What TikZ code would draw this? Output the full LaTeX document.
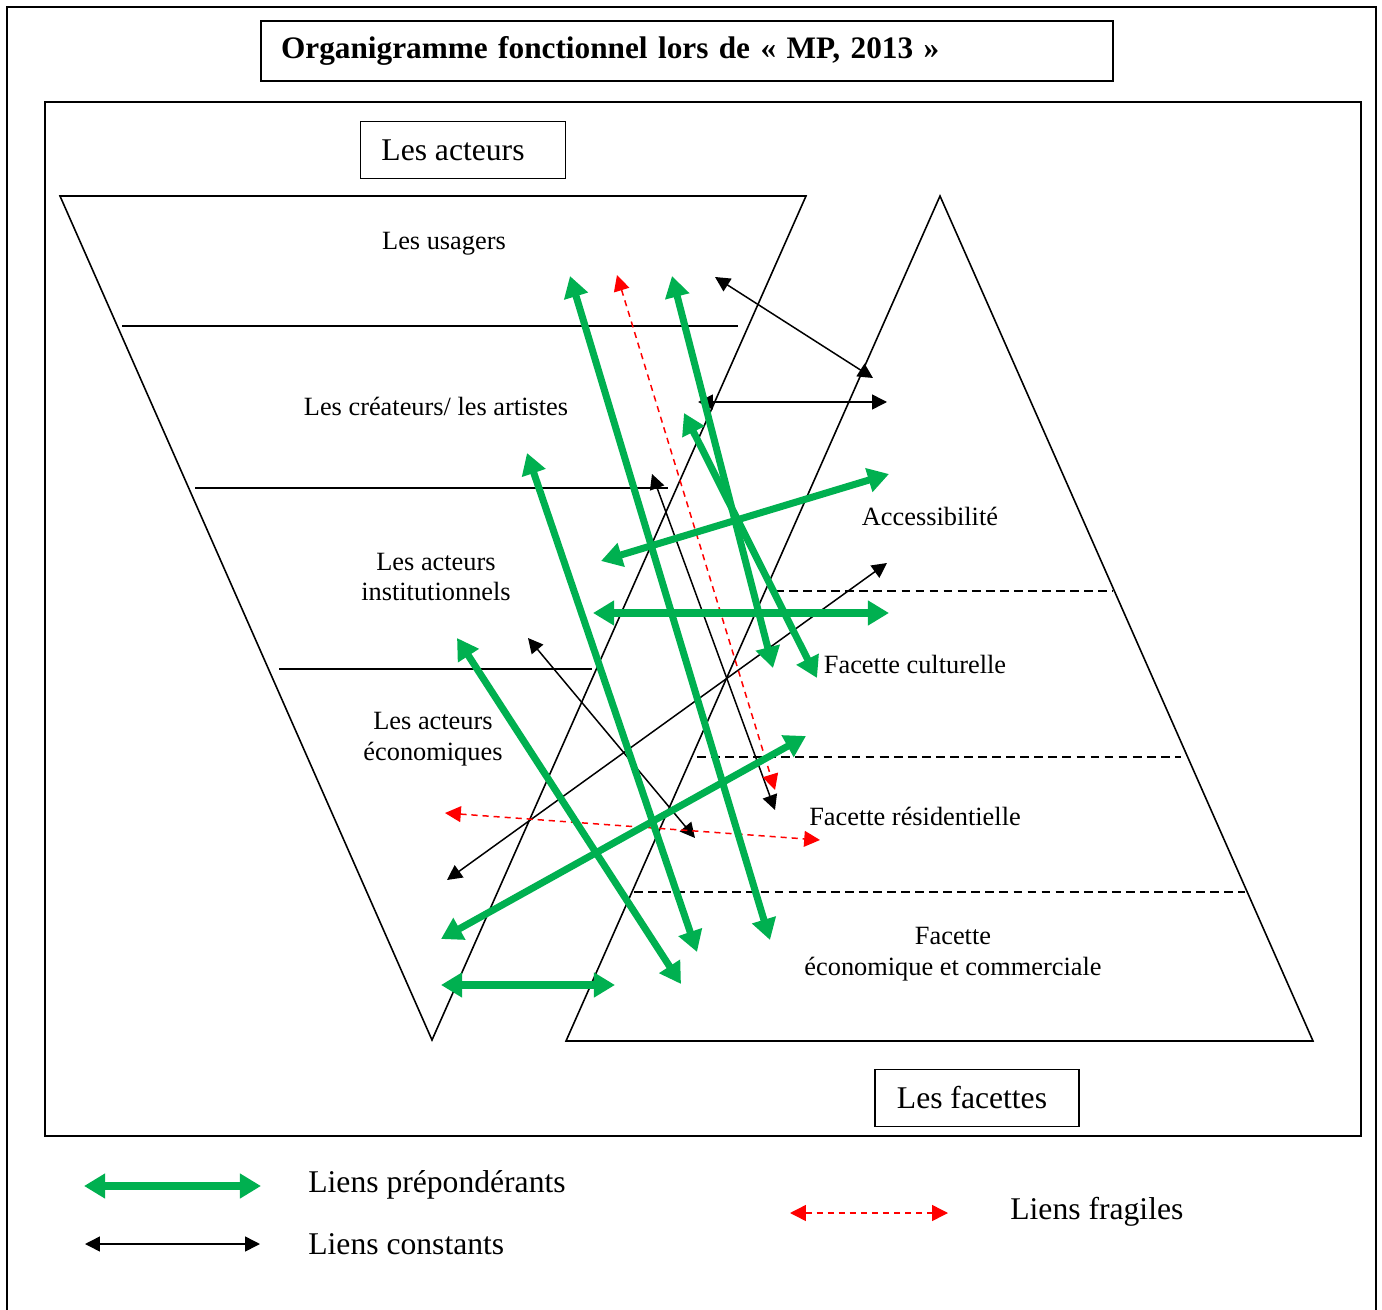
\documentclass[tikz,border=0pt]{standalone}
\usepackage{fontspec}
\setmainfont{Liberation Serif}
\usetikzlibrary{arrows.meta, positioning}
\definecolor{strongcolor}{RGB}{0,176,80}

\begin{document}
\begin{tikzpicture}[x=0.02cm, y=-0.02cm]
    % Define styles
    \tikzstyle{outline}=[draw, line width=0.9pt]
    \tikzstyle{tag}=[font=\fontsize{15}{17.5}\selectfont, align=center]
    \tikzstyle{legendtext}=[font=\fontsize{18}{21}\selectfont, anchor=west, inner sep=0pt]
    \tikzstyle{strong}=[draw=strongcolor, line width=4pt, {Triangle[length=12pt,width=13.5pt]}-{Triangle[length=12pt,width=13.5pt]}]
    \tikzstyle{steady}=[draw, line width=0.85pt, {Triangle[length=8.5pt,width=8.5pt]}-{Triangle[length=8.5pt,width=8.5pt]}]
    \tikzstyle{weak}=[draw=red, line width=0.85pt, dash pattern=on 3.5pt off 2.8pt, {Triangle[length=9pt,width=9pt]}-{Triangle[length=9pt,width=9pt]}]
    \tikzstyle{divider}=[draw, line width=0.8pt]
    \tikzstyle{facetline}=[draw, line width=0.8pt, dash pattern=on 5pt off 3pt]

    \useasboundingbox (0,0) rectangle (1382,1310);

    % Frames
    \draw[outline] (7,1310) -- (7,7) -- (1376,7) -- (1376,1310);
    \draw[outline] (45,102) rectangle (1361,1136);
    \node[outline, text width=16.24cm, inner xsep=0.4cm, minimum height=1.2cm, align=left, font=\fontsize{17.8}{20}\selectfont\bfseries] (title) at (687,51) {Organigramme fonctionnel lors de « MP, 2013 »};
    \node[outline, minimum width=4.1cm, minimum height=1.14cm, font=\fontsize{18}{21}\selectfont] (acteurs) at (463,150) {\hspace*{-0.4cm}Les acteurs};
    \node[outline, minimum width=4.08cm, minimum height=1.14cm, font=\fontsize{18}{21}\selectfont] (facettes) at (977,1098) {\hspace*{-0.2cm}Les facettes};

    % Actors (inverted) and facets triangles
    \draw[outline] (60,196) -- (806,196) -- (432,1040) -- cycle;
    \draw[outline] (940,196) -- (1313,1041) -- (566,1041) -- cycle;
    \draw[divider] (122,326) -- (738,326);
    \draw[divider] (195,488) -- (668,488);
    \draw[divider] (279,669) -- (592,669);
    \draw[facetline] (775,591) -- (1113,591);
    \draw[facetline] (697,757) -- (1181,757);
    \draw[facetline] (634,892) -- (1245,892);

    % Labels
    \node[tag] (usagers) at (444,244) {Les usagers};
    \node[tag] (createurs) at (436,406) {Les créateurs/ les artistes};
    \node[tag] (institution) at (436,577) {Les acteurs\\institutionnels};
    \node[tag] (economie) at (433,739) {Les acteurs\\économiques};
    \node[tag] (access) at (930,516) {Accessibilité};
    \node[tag] (culture) at (915,664) {Facette culturelle};
    \node[tag] (residence) at (915,816) {Facette résidentielle};
    \node[tag] (commerce) at (953,954) {Facette\\économique et commerciale};

    % Arrow ends
    \coordinate (b1a) at (715,277); \coordinate (b1b) at (873,378);
    \coordinate (b2a) at (698,402); \coordinate (b2b) at (887,402);
    \coordinate (b3a) at (652,474); \coordinate (b3b) at (775,810);
    \coordinate (b4a) at (887,563); \coordinate (b4b) at (447,880);
    \coordinate (b5a) at (528,638); \coordinate (b5b) at (695,838);
    \coordinate (r1a) at (617,275); \coordinate (r1b) at (775,790);
    \coordinate (r2a) at (445,813); \coordinate (r2b) at (820,840);
    \coordinate (g1a) at (570,276); \coordinate (g1b) at (770,940);
    \coordinate (g2a) at (527,453); \coordinate (g2b) at (697,952);
    \coordinate (g3a) at (672,276); \coordinate (g3b) at (773,668);
    \coordinate (g4a) at (684,413); \coordinate (g4b) at (817,678);
    \coordinate (g5a) at (889,474); \coordinate (g5b) at (601,561);
    \coordinate (g6a) at (593,613); \coordinate (g6b) at (889,613);
    \coordinate (g7a) at (457,638); \coordinate (g7b) at (681,984);
    \coordinate (g8a) at (806,736); \coordinate (g8b) at (441,939);
    \coordinate (g9a) at (441,985); \coordinate (g9b) at (615,985);

    % Constant links
    \draw[steady] (b1a) -- (b1b);
    \draw[steady] (b2a) -- (b2b);
    \draw[steady] (b3a) -- (b3b);
    \draw[steady] (b4a) -- (b4b);
    \draw[steady] (b5a) -- (b5b);
    % Fragile links
    \draw[weak] (r1a) -- (r1b);
    \draw[weak] (r2a) -- (r2b);
    % Main links
    \draw[strong] (g1a) -- (g1b);
    \draw[strong] (g2a) -- (g2b);
    \draw[strong] (g3a) -- (g3b);
    \draw[strong] (g4a) -- (g4b);
    \draw[strong] (g5a) -- (g5b);
    \draw[strong] (g6a) -- (g6b);
    \draw[strong] (g7a) -- (g7b);
    \draw[strong] (g8a) -- (g8b);
    \draw[strong] (g9a) -- (g9b);

    % Legend
    \coordinate (lg1a) at (84,1186); \coordinate (lg1b) at (261,1186);
    \coordinate (lg2a) at (85,1244); \coordinate (lg2b) at (260,1244);
    \coordinate (lg3a) at (790,1213); \coordinate (lg3b) at (948,1213);
    \draw[strong] (lg1a) -- (lg1b);
    \draw[steady] (lg2a) -- (lg2b);
    \draw[weak] (lg3a) -- (lg3b);
    \node[legendtext] (lgstrong) at (308,1185) {Liens prépondérants};
    \node[legendtext] (lgsteady) at (308,1244) {Liens constants};
    \node[legendtext] (lgweak) at (1010,1212) {Liens fragiles};
\end{tikzpicture}
\end{document}
